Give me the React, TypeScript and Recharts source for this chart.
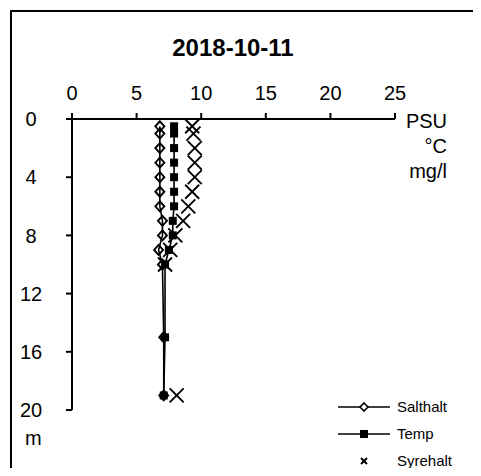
import React from 'react';
import { ScatterChart, Scatter, XAxis, YAxis } from 'recharts';

// depth profile 2018-10-11, depth in m
const salthaltDepth = [0.5, 1, 2, 3, 4, 5, 6, 7, 8, 9, 10, 15, 19];
const salthalt = [6.8, 6.8, 6.8, 6.8, 6.8, 6.8, 6.8, 7.0, 7.0, 6.7, 7.0, 7.1, 7.1];

const tempDepth = [0.5, 1, 2, 3, 4, 5, 6, 7, 8, 9, 10, 15, 19];
const temp = [7.9, 7.9, 7.9, 7.9, 7.9, 7.9, 7.9, 7.8, 7.8, 7.5, 7.2, 7.2, 7.1];

const syreDepth = [0.5, 1, 2, 3, 4, 5, 6, 7, 8, 9, 10, 19];
const syrehalt = [9.3, 9.4, 9.5, 9.5, 9.5, 9.3, 9.0, 8.6, 8.0, 7.6, 7.2, 8.1];

const xTicks = [0, 5, 10, 15, 20, 25];
const yTicks = [0, 4, 8, 12, 16, 20];
const units = ['PSU', '°C', 'mg/l'];

const toPoints = (depths: number[], vals: number[]) =>
  depths.map((d, i) => ({ d, v: vals[i] }));

const FONT = '"Liberation Sans", Arial, sans-serif';

const Diamond = ({ cx, cy }: any) => (
  <path
    d={`M${cx},${cy - 5}L${cx + 4.5},${cy}L${cx},${cy + 5}L${cx - 4.5},${cy}Z`}
    fill='none'
    stroke='#000'
    strokeWidth={1.9}
  />
);

const Square = ({ cx, cy }: any) => (
  <rect x={cx - 4} y={cy - 4} width={8} height={8} fill='#000' />
);

const Cross = ({ cx, cy, r = 7, w = 1.9 }: any) => (
  <g stroke='#000' strokeWidth={w}>
    <line x1={cx - r} y1={cy - r} x2={cx + r} y2={cy + r} />
    <line x1={cx - r} y1={cy + r} x2={cx + r} y2={cy - r} />
  </g>
);

const YTick = ({ y, payload }: any) => (
  <text x={23} y={y} dy='0.36em' textAnchor='middle' fontSize={20} fontFamily={FONT} fill='#000'>
    {payload.value}
  </text>
);

const LegendBox = () => (
  <svg width={140} height={80} style={{ display: 'block' }}>
    <g fontFamily={FONT} fontSize={15} fill='#000'>
      <line x1={0} y1={12} x2={52} y2={12} stroke='#000' strokeWidth={1.5} />
      <path d='M26,8L30,12L26,16L22,12Z' fill='#fff' stroke='#000' strokeWidth={1.6} />
      <text x={59} y={17}>Salthalt</text>
      <line x1={0} y1={39} x2={52} y2={39} stroke='#000' strokeWidth={1.5} />
      <rect x={22} y={35} width={8} height={8} fill='#000' />
      <text x={59} y={44}>Temp</text>
      <Cross cx={26} cy={66} r={3} w={2} />
      <text x={59} y={71}>Syrehalt</text>
    </g>
  </svg>
);

export default function App() {
  return (
    <div
      style={{
        position: 'relative',
        width: 465,
        height: 460,
        overflow: 'hidden',
        fontFamily: FONT,
        color: '#000',
      }}
    >
      <div
        style={{
          position: 'absolute',
          left: 2,
          top: 2,
          width: 500,
          height: 500,
          borderTop: '2px solid #000',
          borderLeft: '2px solid #000',
        }}
      />
      <div
        style={{
          position: 'absolute',
          left: 125,
          top: 28,
          width: 200,
          textAlign: 'center',
          fontWeight: 'bold',
          fontSize: 24,
          lineHeight: 1,
        }}
      >
        2018-10-11
      </div>
      {units.map((u, i) => (
        <div
          key={u}
          style={{
            position: 'absolute',
            right: 465 - 439,
            top: 103 + i * 25,
            fontSize: 20,
            lineHeight: 1,
            textAlign: 'right',
          }}
        >
          {u}
        </div>
      ))}
      <div
        style={{ position: 'absolute', left: 17, top: 420, fontSize: 20, lineHeight: 1 }}
      >
        m
      </div>
      <div style={{ position: 'absolute', left: 330, top: 387 }}>
        <LegendBox />
      </div>
      <ScatterChart
        width={465}
        height={460}
        margin={{ top: 81, right: 78, bottom: 58, left: 14 }}
      >
        <XAxis
          type='number'
          dataKey='v'
          orientation='top'
          domain={[0, 25]}
          ticks={xTicks}
          interval={0}
          height={30}
          tickSize={6}
          tickMargin={13}
          stroke='#000'
          strokeWidth={2}
          tick={{ fill: '#000', fontSize: 20, fontFamily: FONT }}
        />
        <YAxis
          type='number'
          dataKey='d'
          reversed
          domain={[0, 20]}
          ticks={yTicks}
          interval={0}
          width={50}
          tickSize={6}
          stroke='#000'
          strokeWidth={2}
          tick={<YTick />}
        />
        <Scatter
          name='Salthalt'
          data={toPoints(salthaltDepth, salthalt)}
          line={{ stroke: '#000', strokeWidth: 1.6 }}
          lineType='joint'
          shape={<Diamond />}
          isAnimationActive={false}
        />
        <Scatter
          name='Temp'
          data={toPoints(tempDepth, temp)}
          line={{ stroke: '#000', strokeWidth: 1.6 }}
          lineType='joint'
          shape={<Square />}
          isAnimationActive={false}
        />
        <Scatter
          name='Syrehalt'
          data={toPoints(syreDepth, syrehalt)}
          shape={<Cross />}
          isAnimationActive={false}
        />
      </ScatterChart>
    </div>
  );
}
